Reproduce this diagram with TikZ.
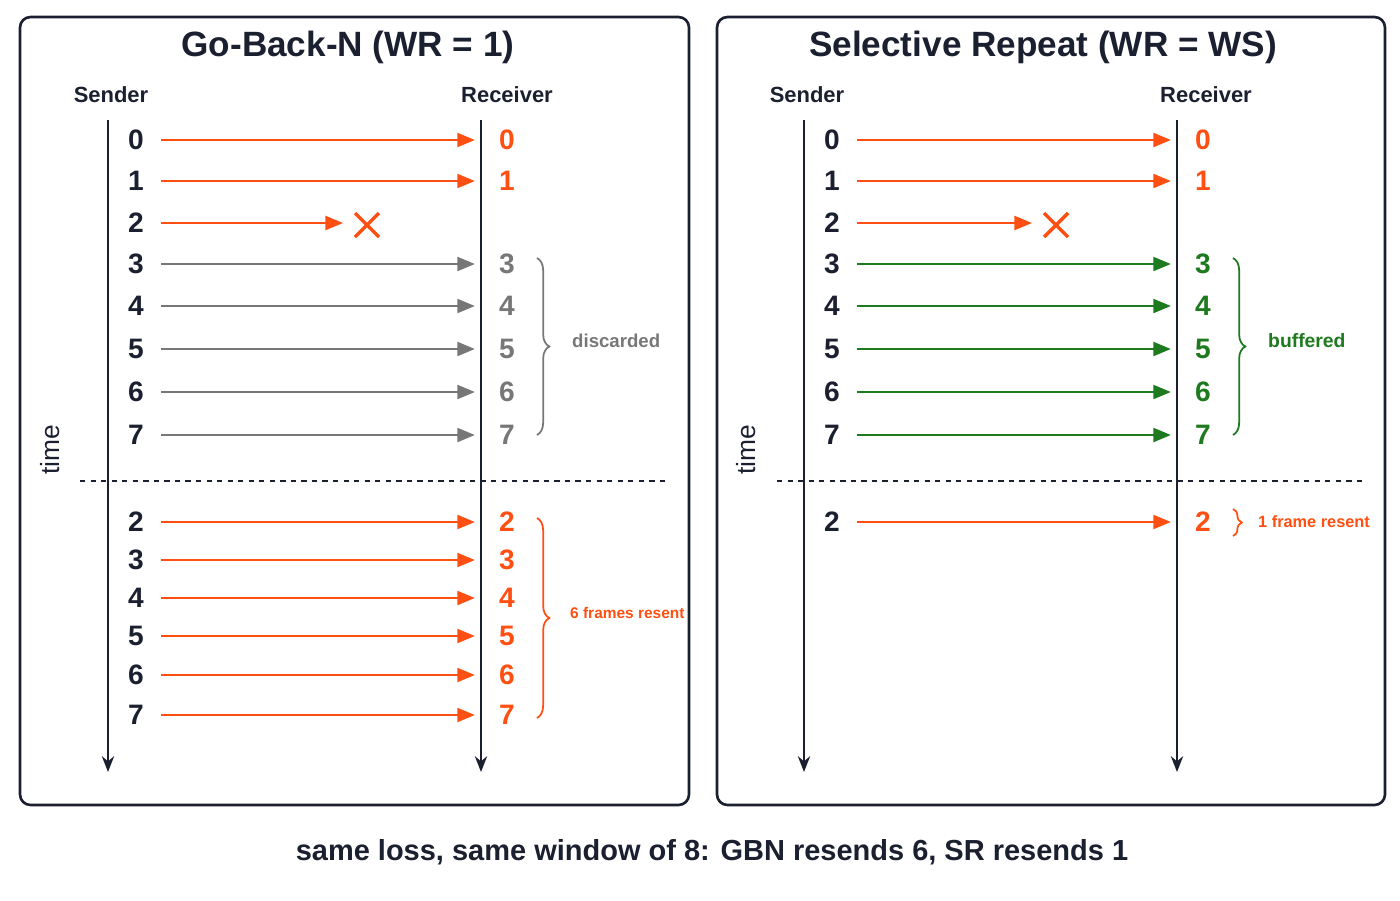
\documentclass[tikz,border=0pt]{standalone}
\usepackage{fontspec}
\setmainfont{Liberation Sans}
\usetikzlibrary{arrows.meta,decorations.pathreplacing}
\definecolor{lost}{HTML}{FF4F12}
\definecolor{waste}{HTML}{777777}
\definecolor{kept}{HTML}{1E7A1E}
\definecolor{ink}{HTML}{1A2030}
\tikzset{
  panel/.style   = {draw=ink, line width=1.5pt, rounded corners=6pt},
  title/.style   = {font=\fontsize{20}{24}\selectfont\bfseries, text=ink},
  role/.style    = {font=\fontsize{12.5}{15}\selectfont\bfseries, text=ink},
  seq/.style     = {font=\fontsize{16}{18}\selectfont\bfseries, inner sep=0pt},
  timeline/.style= {draw=ink, line width=1.2pt, -{Stealth[length=9pt,width=7pt]}},
  frame/.style   = {line width=1.2pt, -{Triangle[length=10pt,width=8pt]},
                    shorten <=0.34cm, shorten >=0.48cm},
  brace/.style   = {decorate, decoration={brace, amplitude=7pt}, line width=1pt},
  note/.style    = {anchor=west},
  cross/.style   = {draw=lost, line width=2pt}
}
\begin{document}
\begin{tikzpicture}[x=0.02cm, y=-0.02cm]
  \useasboundingbox (0,0) rectangle (1400,900);
  % the two panels
  \draw[panel] (20,17) rectangle (689,805);
  \draw[panel] (717,17) rectangle (1385,805);
  \node[title] (gbnT) at (348,47) {Go-Back-N (WR = 1)};
  \node[title] (srT) at (1043,47) {Selective Repeat (WR = WS)};
  % left: go-back-n
  \node[role] (gbnS) at (111,95) {Sender};
  \node[role] (gbnR) at (507,95) {Receiver};
  \coordinate (gbnSa) at (108,120); \coordinate (gbnSb) at (108,772);
  \coordinate (gbnRa) at (481,120); \coordinate (gbnRb) at (481,772);
  \draw[timeline] (gbnSa) -- (gbnSb);
  \draw[timeline] (gbnRa) -- (gbnRb);
  \node[rotate=90, font=\fontsize{15}{17}\selectfont, text=ink] (gbnTime) at (50,450) {time};
  \coordinate (gbnDa) at (80,481); \coordinate (gbnDb) at (670,481);
  \draw[dashed, ink, line width=0.8pt] (gbnDa) -- (gbnDb);
  \foreach \n/\y/\c in {0/140/lost,1/181/lost,3/264/waste,4/306/waste,5/349/waste,6/392/waste,7/435/waste}{
    \node[seq, text=ink] (gs\n) at (136,\y) {\n};
    \node[seq, text=\c] (gr\n) at (507,\y) {\n};
    \draw[frame, \c] (gs\n) -- (gr\n);
  }
  \node[seq, text=ink] (gs2) at (136,223) {2};
  \coordinate (gx2) at (343,223);
  \draw[frame, lost, shorten >=0pt] (gs2) -- (gx2);
  \coordinate (gLoss) at (367,225);
  \draw[cross] (gLoss) ++(-12,-12) -- ++(24,24) (gLoss) ++(-12,12) -- ++(24,-24);
  \foreach \n/\y in {2/522,3/560,4/598,5/636,6/675,7/715}{
    \node[seq, text=ink] (gb\n) at (136,\y) {\n};
    \node[seq, text=lost] (gq\n) at (507,\y) {\n};
    \draw[frame, lost] (gb\n) -- (gq\n);
  }
  \coordinate (gbrA) at (537,258); \coordinate (gbrB) at (537,435);
  \draw[brace, waste] (gbrA) -- (gbrB);
  \node[note, waste, font=\fontsize{10.6}{13}\selectfont\bfseries] (gDisc) at (566,341) {discarded};
  \coordinate (gbrC) at (537,518); \coordinate (gbrD) at (537,718);
  \draw[brace, lost] (gbrC) -- (gbrD);
  \node[note, lost, font=\fontsize{8.8}{11}\selectfont\bfseries] (gResent) at (564,613) {6 frames resent};
  % right: selective repeat
  \node[role] (srS) at (807,95) {Sender};
  \node[role] (srR) at (1206,95) {Receiver};
  \coordinate (srSa) at (804,120); \coordinate (srSb) at (804,772);
  \coordinate (srRa) at (1177,120); \coordinate (srRb) at (1177,772);
  \draw[timeline] (srSa) -- (srSb);
  \draw[timeline] (srRa) -- (srRb);
  \node[rotate=90, font=\fontsize{15}{17}\selectfont, text=ink] (srTime) at (746,450) {time};
  \coordinate (srDa) at (777,481); \coordinate (srDb) at (1365,481);
  \draw[dashed, ink, line width=0.8pt] (srDa) -- (srDb);
  \foreach \n/\y/\c in {0/140/lost,1/181/lost,3/264/kept,4/306/kept,5/349/kept,6/392/kept,7/435/kept}{
    \node[seq, text=ink] (ss\n) at (832,\y) {\n};
    \node[seq, text=\c] (sr\n) at (1203,\y) {\n};
    \draw[frame, \c] (ss\n) -- (sr\n);
  }
  \node[seq, text=ink] (ss2) at (832,223) {2};
  \coordinate (sx2) at (1032,223);
  \draw[frame, lost, shorten >=0pt] (ss2) -- (sx2);
  \coordinate (sLoss) at (1056,225);
  \draw[cross] (sLoss) ++(-12,-12) -- ++(24,24) (sLoss) ++(-12,12) -- ++(24,-24);
  \node[seq, text=ink] (sb2) at (832,522) {2};
  \node[seq, text=lost] (sq2) at (1203,522) {2};
  \draw[frame, lost] (sb2) -- (sq2);
  \coordinate (sbrA) at (1233,258); \coordinate (sbrB) at (1233,435);
  \draw[brace, kept] (sbrA) -- (sbrB);
  \node[note, kept, font=\fontsize{11}{13}\selectfont\bfseries] (sBuf) at (1262,341) {buffered};
  \coordinate (sbrC) at (1233,509); \coordinate (sbrD) at (1233,536);
  \draw[brace, lost, decoration={brace, amplitude=5pt}] (sbrC) -- (sbrD);
  \node[note, lost, font=\fontsize{9.3}{11}\selectfont\bfseries] (sResent) at (1252,522) {1 frame resent};
  % caption
  \node[font=\fontsize{16.5}{19}\selectfont\bfseries, text=ink] (caption) at (712,852)
    {same loss, same window of 8: GBN resends 6, SR resends 1};
\end{tikzpicture}
\end{document}
